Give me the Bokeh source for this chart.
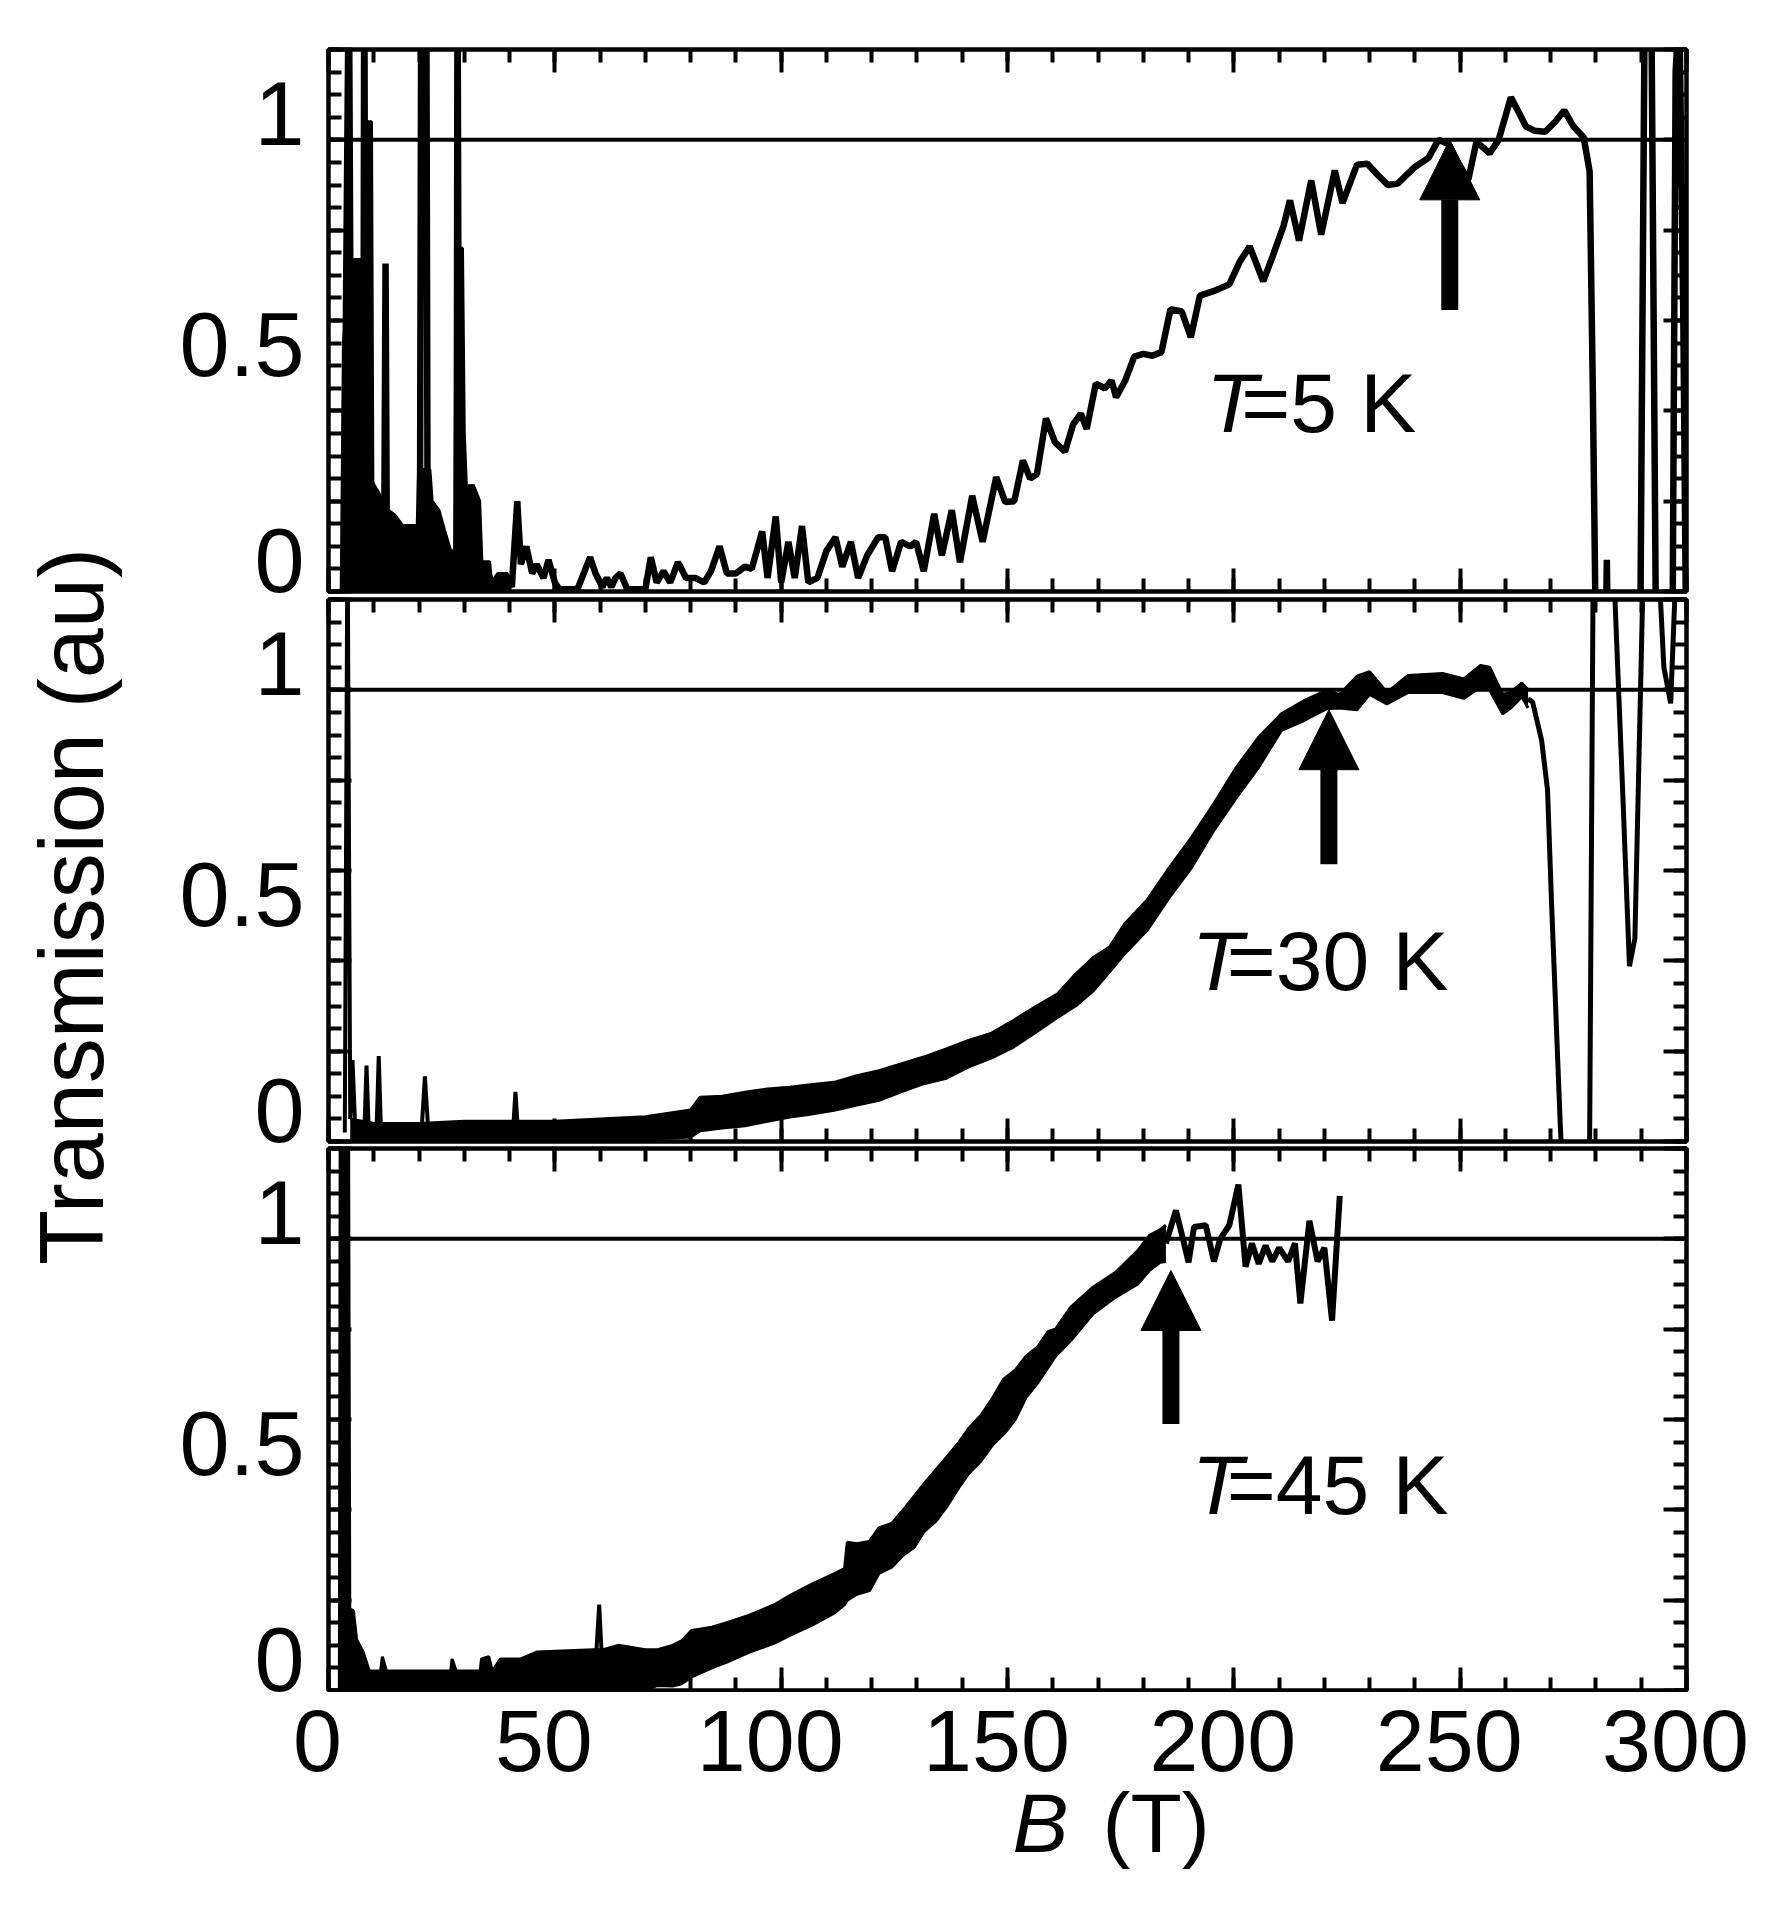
import math
from bokeh.plotting import figure
from bokeh.layouts import column, row
from bokeh.models import Range1d, LinearAxis, FixedTicker, Span, Arrow, NormalHead, Label
from bokeh.core.properties import value
from bokeh.embed import file_html
from bokeh.resources import INLINE

FONT = "Liberation Sans"

# ---------------- data: magnetic field B (T) and transmission (au) ----------------
# T = 5 K : dense noise at low field (filled envelope) and the measured trace
t5_band_b = [2.8, 3.0, 3.3, 4.8, 5.6, 7.6, 7.9, 9.5, 9.8, 11.0, 12.0, 13.2, 14.6, 16.4, 19.6,
             19.9, 22.4, 22.9, 24.4, 25.6, 27.0, 27.9, 28.2, 29.6, 30.0, 30.6, 31.4, 32.8, 33.3,
             35.6, 36.0, 37.4, 39.4, 40.0]
t5_band_hi = [0.0, 0.21, 0.55, 0.73, 0.735, 0.735, 1.04, 1.04, 0.24, 0.22, 0.20, 0.18, 0.17, 0.146,
              0.146, 0.27, 0.27, 0.20, 0.18, 0.137, 0.09, 0.09, 0.76, 0.76, 0.35, 0.20, 0.235, 0.20,
              0.066, 0.066, 0.02, 0.04, 0.04, 0.0]
t5_b = [3.5, 4.5, 5.0, 7.7, 7.9, 8.2, 12.3, 12.6, 12.9, 20.2, 20.5, 21.6, 21.9, 28.3, 28.5, 28.8,
        30.0, 31.6, 33.0, 33.5, 35.0, 36.0, 37.3, 38.5, 39.0, 40.5, 41.7, 42.5, 43.7, 45.0, 46.0,
        47.5, 48.6, 50.0, 51.0, 55.0, 57.8, 59.0, 60.5, 61.5, 62.5, 63.4, 64.5, 66.0, 70.0, 71.2,
        72.5, 74.0, 75.5, 77.2, 79.0, 81.0, 83.0, 84.5, 86.4, 88.0, 90.0, 92.0, 93.5, 95.8, 97.0,
        98.8, 100.0, 101.6, 103.0, 104.6, 106.0, 108.0, 110.0, 112.0, 113.5, 115.4, 117.0, 119.0,
        121.4, 123.0, 124.5, 126.5, 128.5, 129.8, 131.5, 133.8, 135.5, 137.7, 139.5, 142.2, 144.5,
        147.5, 149.5, 151.5, 153.4, 155.0, 156.5, 158.5, 160.5, 162.7, 164.5, 166.2, 167.5, 169.5,
        171.5, 173.0, 174.0, 176.0, 178.0, 180.0, 182.0, 184.0, 186.0, 188.5, 190.5, 192.5, 195.5,
        199.0, 201.3, 203.5, 206.5, 208.5, 211.0, 212.4, 214.4, 217.1, 219.3, 222.3, 224.0, 227.2,
        229.5, 232.0, 234.0, 236.2, 240.0, 243.0, 245.2, 247.5, 249.5, 251.8, 253.6, 256.5, 258.5,
        261.2, 263.0, 264.5, 266.5, 268.8, 271.0, 273.0, 275.0, 277.3, 278.6, 279.3, 280.2, 281.6,
        282.4, 283.2, 289.5, 290.8, 292.2, 293.4, 296.8, 297.6, 298.4, 299.3, 300.0]
t5_v = [0.2, 1.4, 0.3, 0.3, 1.4, 0.3, 0.1, 0.726, 0.1, 0.1, 1.4, 1.4, 0.1, 0.05, 1.4, 0.3,
        0.2, 0.235, 0.2, 0.066, 0.05, 0.02, 0.022, 0.02, 0.04, 0.01, 0.2, 0.06, 0.10, 0.04, 0.06,
        0.03, 0.07, 0.02, 0.005, 0.005, 0.076, 0.04, 0.01, 0.03, 0.01, 0.03, 0.04, 0.005, 0.005, 0.076,
        0.02, 0.045, 0.02, 0.065, 0.03, 0.03, 0.02, 0.045, 0.10, 0.04, 0.04, 0.055, 0.05, 0.133, 0.03,
        0.166, 0.02, 0.11, 0.03, 0.145, 0.02, 0.03, 0.09, 0.12, 0.055, 0.11, 0.03, 0.08,
        0.12, 0.12, 0.045, 0.11, 0.10, 0.11, 0.045, 0.172, 0.08, 0.18, 0.065, 0.212, 0.11,
        0.253, 0.198, 0.20, 0.29, 0.25, 0.26, 0.383, 0.33, 0.31, 0.37, 0.394, 0.36, 0.46,
        0.45, 0.467, 0.43, 0.467, 0.52, 0.526, 0.522, 0.53, 0.625, 0.62, 0.563, 0.655, 0.665,
        0.68, 0.73, 0.764, 0.687, 0.74, 0.81, 0.866, 0.777, 0.91, 0.79, 0.932, 0.86, 0.945,
        0.947, 0.92, 0.90, 0.903, 0.94, 0.96, 1.0, 0.99, 0.95, 0.912, 0.996, 0.97, 1.0,
        1.094, 1.06, 1.03, 1.02, 1.018, 1.04, 1.065, 1.03, 1.005, 0.93, 0.45, -0.3, -0.5,
        0.07, -0.5, -0.5, 1.35, 1.35, -0.3, -0.3, 1.15, 1.3, 0.6, -0.2]

# T = 30 K : noisy band (lower / upper edge), isolated spikes, high-field tail
t30_band_b = [4.8, 10.0, 20.0, 30.0, 40.0, 50.0, 60.0, 70.0, 80.0, 82.1, 87.0, 92.0, 97.0,
              101.9, 106.0, 111.7, 116.5, 121.6, 126.5, 131.5, 136.5, 141.4, 146.5, 151.3,
              156.0, 161.1, 165.0, 169.0, 172.5, 175.9, 180.8, 185.8, 190.7, 195.6, 200.6,
              205.5, 210.5, 215.5, 220.4, 223.4, 227.2, 230.0, 233.8, 238.5, 246.1, 250.8, 254.5,
              256.5, 259.4, 261.2, 263.6, 265.0]
t30_band_lo = [0.0, 0.0, 0.0, 0.0, 0.0, 0.0, 0.0, 0.005, 0.01, 0.024, 0.03, 0.035, 0.045,
               0.054, 0.06, 0.069, 0.08, 0.091, 0.11, 0.128, 0.14, 0.165, 0.185, 0.209,
               0.24, 0.275, 0.3, 0.334, 0.375, 0.416, 0.467, 0.541, 0.607, 0.689, 0.762,
               0.829, 0.91, 0.932, 0.958, 0.96, 0.956, 0.99, 0.969, 0.994, 0.994, 0.981, 1.007,
               1.0, 0.947, 0.96, 0.985, 0.96]
t30_band_hi = [0.05, 0.04, 0.04, 0.045, 0.045, 0.045, 0.05, 0.055, 0.07, 0.098, 0.10, 0.109, 0.116,
               0.12, 0.125, 0.131, 0.145, 0.157, 0.172, 0.187, 0.205, 0.224, 0.24, 0.268,
               0.297, 0.327, 0.37, 0.408, 0.43, 0.482, 0.534, 0.607, 0.674, 0.748, 0.829,
               0.895, 0.947, 0.976, 0.998, 0.99, 1.03, 1.04, 0.994, 1.032, 1.036, 1.024, 1.054,
               1.05, 0.99, 0.995, 1.015, 1.0]
t30_b = [3.6, 4.2, 4.8, 5.3, 5.9, 7.9, 8.4, 8.9, 10.6, 11.1, 11.6, 20.6, 21.3, 22.0, 40.8, 41.3, 41.8]
t30_v = [0.02, 1.4, 0.05, 0.18, 0.03, 0.02, 0.168, 0.02, 0.02, 0.189, 0.02, 0.03, 0.144, 0.03,
         0.03, 0.11, 0.03]
t30_tail_b = [265.0, 266.0, 268.0, 269.3, 270.2, 271.2, 272.1, 273.0, 276.0, 278.6, 279.4, 281.0,
              284.0, 286.0, 287.4, 288.6, 290.3, 291.0, 293.5, 295.0, 296.5, 297.6, 300.0]
t30_tail_v = [0.98, 0.973, 0.888, 0.778, 0.525, 0.27, 0.04, -0.15, -0.15, 0.0, 1.3, 1.4, 1.25,
              0.75, 0.388, 0.45, 1.2, 1.4, 1.35, 1.05, 0.97, 1.25, 1.3]

# T = 45 K : noisy band, one spike, high-field tail
t45_band_b = [2.4, 2.6, 4.4, 4.7, 5.5, 6.2, 7.7, 9.0, 11.5, 11.9, 12.8, 27.0, 27.3, 28.2, 33.5,
              33.8, 35.4, 36.2, 38.0, 42.5, 46.0, 58.5, 60.5, 64.0, 70.0, 72.5, 76.0, 78.0, 80.2,
              84.7, 88.0, 93.0, 98.5, 101.9, 106.9, 111.8, 114.0, 114.6, 116.7, 119.5, 121.6,
              124.4, 127.0, 129.4, 131.5, 134.3, 136.5, 139.3, 141.4, 144.2, 146.8, 149.2, 151.7,
              154.1, 156.6, 159.0, 160.6, 164.0, 168.9, 173.9, 178.8, 181.3, 183.7, 185.0]
t45_band_lo = [0.0, 0.0, 0.0, 0.0, 0.0, 0.0, 0.0, 0.0, 0.0, 0.0, 0.0, 0.0, 0.0, 0.0, 0.0,
               0.0, 0.0, 0.0, 0.0, 0.0, 0.0, 0.0, 0.0, 0.0, 0.0, 0.011, 0.01, 0.015, 0.03,
               0.05, 0.063, 0.085, 0.105, 0.122, 0.145, 0.172, 0.19, 0.2, 0.213, 0.221, 0.259,
               0.273, 0.3, 0.317, 0.351, 0.376, 0.406, 0.45, 0.48, 0.509, 0.545, 0.568, 0.6,
               0.649, 0.68, 0.716, 0.74, 0.775, 0.834, 0.871, 0.9, 0.93, 0.948, 0.95]
t45_band_hi = [0.0, 1.4, 1.4, 0.18, 0.177, 0.113, 0.084, 0.043, 0.043, 0.075, 0.043, 0.043, 0.07,
               0.043, 0.043, 0.07, 0.075, 0.043, 0.07, 0.07, 0.085, 0.09, 0.09, 0.10, 0.09, 0.09,
               0.10, 0.11, 0.133, 0.14, 0.15, 0.167, 0.19, 0.21, 0.236, 0.259, 0.27, 0.328,
               0.325, 0.33, 0.36, 0.37, 0.40, 0.43, 0.457, 0.49, 0.516, 0.55, 0.58, 0.61, 0.649,
               0.69, 0.709, 0.74, 0.76, 0.795, 0.80, 0.849, 0.893, 0.926, 0.974, 1.007, 1.02, 1.03]
t45_b = [59.2, 59.8, 60.3]
t45_v = [0.09, 0.19, 0.09]
t45_tail_b = [185.0, 187.2, 189.0, 190.0, 191.2, 193.8, 195.6, 197.0, 199.0, 201.0, 202.6, 204.0,
              205.5, 207.0, 208.5, 210.0, 212.0, 213.5, 214.7, 216.7, 218.5, 220.0, 221.7, 223.4]
t45_tail_v = [0.99, 1.063, 0.99, 0.948, 1.026, 1.03, 0.95, 1.0, 1.03, 1.12, 0.938, 0.99,
              0.945, 0.985, 0.95, 0.98, 0.95, 0.99, 0.857, 1.04, 0.95, 0.98, 0.819, 1.095]

# panel annotations
temps = ["5", "30", "45"]
label_b = [193.9, 190.7, 190.7]
label_y = [0.314, 0.295, 0.351]
arrow_b = [247.7, 221.0, 186.1]
arrow_tail = [0.623, 0.614, 0.590]
arrow_tip = [1.0, 0.956, 0.93]

X_MAJOR = [0, 50, 100, 150, 200, 250, 300]
X_MINOR = list(range(0, 301, 10))
Y_MAJOR = [0, 0.2, 0.4, 0.6, 0.8, 1.0, 1.2]
Y_MINOR = [round(0.05 * i, 2) for i in range(25)]
# tick labels sit a little above their tick values
Y_LABELS = [(0, "0", 0.068), (0.5, "0.5", 0.046), (1, "1", 0.058)]

# page geometry (px)
PAGE_W, PAGE_H = 1772, 1907
YLAB_W = 140
FRAME_LEFT = 328
FRAME_W, FRAME_H = 1358, 542
BORDER_L, BORDER_R = FRAME_LEFT - YLAB_W, PAGE_W - FRAME_LEFT - FRAME_W
P1_BORDERS = (49, 6)
P2_BORDERS = (2, 5)
P3_BORDERS = (2, 2)
STACK_H = sum(P1_BORDERS + P2_BORDERS + P3_BORDERS) + 3 * FRAME_H
XLAB_H = PAGE_H - STACK_H
PX_PER_T = FRAME_W / 300.0


def tick_axis(major, minor):
    ax = LinearAxis(ticker=FixedTicker(ticks=major, minor_ticks=minor))
    ax.axis_line_color = None
    ax.major_tick_in, ax.major_tick_out = 23, 0
    ax.minor_tick_in, ax.minor_tick_out = 13, 0
    ax.major_tick_line_width = 4
    ax.minor_tick_line_width = 4
    ax.major_tick_line_color = "black"
    ax.minor_tick_line_color = "black"
    ax.major_label_text_font_size = "1px"
    ax.major_label_text_color = None
    ax.major_label_standoff = 0
    return ax


def y_label_axis():
    ticks = [v + lift for v, _, lift in Y_LABELS]
    ax = LinearAxis(ticker=FixedTicker(ticks=ticks, minor_ticks=[]),
                    major_label_overrides={v + lift: s for v, s, lift in Y_LABELS})
    ax.axis_line_color = None
    ax.major_tick_line_color = None
    ax.minor_tick_line_color = None
    ax.major_tick_in, ax.major_tick_out = 0, 0
    ax.minor_tick_in, ax.minor_tick_out = 0, 0
    ax.major_label_text_font = FONT
    ax.major_label_text_font_size = "90px"
    ax.major_label_text_color = "black"
    ax.major_label_standoff = 24
    return ax


shared_x = Range1d(0, 300)


def panel(borders):
    top, bottom = borders
    p = figure(frame_width=FRAME_W, frame_height=FRAME_H,
               x_range=shared_x, y_range=Range1d(0, 1.2),
               x_axis_location=None, y_axis_location=None,
               min_border_left=BORDER_L, min_border_right=BORDER_R,
               min_border_top=top, min_border_bottom=bottom,
               output_backend="svg", toolbar_location=None)
    p.grid.visible = False
    p.outline_line_color = "black"
    p.outline_line_width = 4.5
    p.background_fill_color = "white"
    p.border_fill_color = "white"
    p.add_layout(tick_axis(X_MAJOR, X_MINOR), "above")
    p.add_layout(tick_axis(X_MAJOR, X_MINOR), "below")
    p.add_layout(tick_axis(Y_MAJOR, Y_MINOR), "left")
    p.add_layout(y_label_axis(), "left")
    p.add_layout(tick_axis(Y_MAJOR, Y_MINOR), "right")
    p.add_layout(Span(location=1, dimension="width", line_color="black", line_width=4))
    return p


def annotate(p, i):
    p.add_layout(Label(x=label_b[i], y=label_y[i], text="T", text_font=FONT,
                       text_font_size="84px", text_font_style="italic", text_color="black"))
    p.add_layout(Label(x=label_b[i], y=label_y[i], x_offset=35, text="=" + temps[i] + " K",
                       text_font=FONT, text_font_size="84px", text_color="black"))
    p.add_layout(Arrow(end=NormalHead(size=60, fill_color="black", line_color="black"),
                       x_start=arrow_b[i], y_start=arrow_tail[i],
                       x_end=arrow_b[i], y_end=arrow_tip[i],
                       line_color="black", line_width=17))


def band(p, b, lo, hi):
    p.varea(x=b, y1=lo, y2=hi, fill_color="black")
    p.line(b, hi, line_color="black", line_width=3)
    p.line(b, lo, line_color="black", line_width=3)


def blank(width, height, x_range):
    f = figure(frame_width=width, frame_height=height, x_range=x_range,
               y_range=Range1d(0, height), x_axis_location=None, y_axis_location=None,
               min_border=0, output_backend="svg", toolbar_location=None)
    f.grid.visible = False
    f.outline_line_color = None
    f.background_fill_color = "white"
    f.border_fill_color = "white"
    return f


# T = 5 K
p1 = panel(P1_BORDERS)
p1.varea(x=t5_band_b, y1=[0.0] * len(t5_band_b), y2=t5_band_hi, fill_color="black")
p1.line(t5_band_b, t5_band_hi, line_color="black", line_width=3)
p1.line(t5_b, t5_v, line_color="black", line_width=6.5)
annotate(p1, 0)

# T = 30 K
p2 = panel(P2_BORDERS)
band(p2, t30_band_b, t30_band_lo, t30_band_hi)
p2.line(t30_b, t30_v, line_color="black", line_width=4)
p2.line(t30_tail_b, t30_tail_v, line_color="black", line_width=5)
annotate(p2, 1)

# T = 45 K
p3 = panel(P3_BORDERS)
band(p3, t45_band_b, t45_band_lo, t45_band_hi)
p3.line(t45_b, t45_v, line_color="black", line_width=4)
p3.line(t45_tail_b, t45_tail_v, line_color="black", line_width=6)
annotate(p3, 2)

# vertical axis title on the left of the stack
ylab = blank(YLAB_W, STACK_H, Range1d(0, YLAB_W))
ylab.text(x=[71], y=[STACK_H - 906], text=["Transmission (au)"], text_font=value(FONT),
          text_font_size="90px", text_color="black", angle=math.pi / 2,
          text_align="center", text_baseline="alphabetic")

# field tick labels and axis title across the full page width, on the panels' field scale
xlab_range = Range1d(-FRAME_LEFT / PX_PER_T, (PAGE_W - FRAME_LEFT) / PX_PER_T)
xlab = blank(PAGE_W, XLAB_H, xlab_range)
xlab.text(x=X_MAJOR, y=[XLAB_H - 48] * len(X_MAJOR), text=[str(v) for v in X_MAJOR],
          text_font=value(FONT), text_font_size="88px", text_color="black",
          text_align="center", text_baseline="alphabetic", x_offset=-11)
xlab.text(x=[151.1], y=[XLAB_H - 130], text=["B"], text_font=value(FONT),
          text_font_size="84px", text_font_style="italic", text_color="black",
          text_align="left", text_baseline="alphabetic")
xlab.text(x=[151.1], y=[XLAB_H - 130], text=["(T)"], text_font=value(FONT),
          text_font_size="84px", text_color="black", x_offset=90,
          text_align="left", text_baseline="alphabetic")

layout = column(row(ylab, column(p1, p2, p3, spacing=0), spacing=0), xlab, spacing=0)
open("out.html", "w").write(file_html(layout, INLINE))
